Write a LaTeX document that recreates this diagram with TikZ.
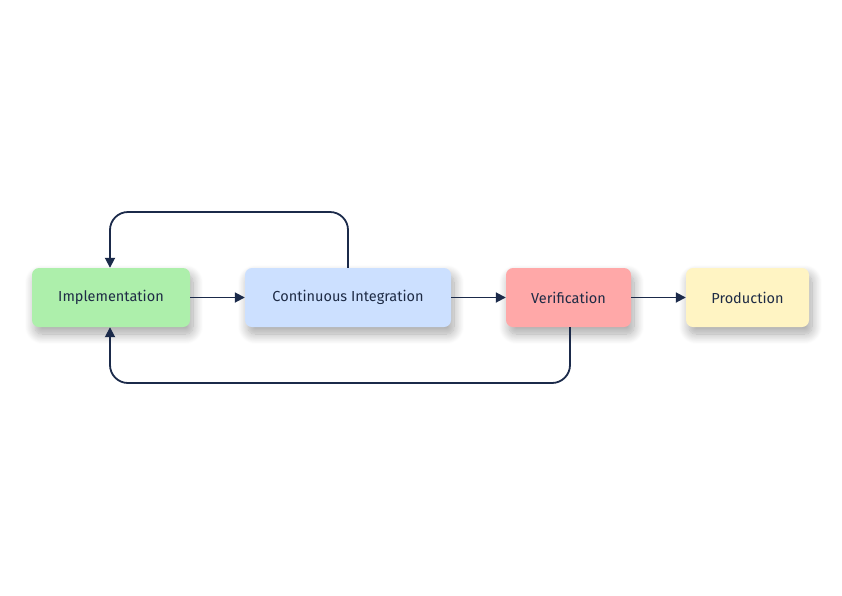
\documentclass[tikz,border=0pt]{standalone}
\usepackage{fontspec}
\setmainfont{Fira Sans}
\usetikzlibrary{arrows.meta,shadows.blur,positioning}
\definecolor{lnc}{HTML}{1B2A4A}
\definecolor{txc}{HTML}{1E2B45}
\definecolor{cgreen}{HTML}{ADEFAB}
\definecolor{cblue}{HTML}{CCE0FF}
\definecolor{cred}{HTML}{FFA8A8}
\definecolor{cyellow}{HTML}{FFF4C3}
\tikzset{
  box/.style={rounded corners=7pt, minimum height=59pt, inner sep=0pt,
    text=txc, font=\fontsize{14.5pt}{16pt}\selectfont,
    blur shadow={shadow xshift=3pt, shadow yshift=-7pt, shadow blur radius=10pt, shadow blur steps=12, shadow opacity=35}},
  conn/.style={draw=lnc, line width=1.8pt, -{Triangle[length=10pt,width=10pt]}},
}
\begin{document}
\begin{tikzpicture}[x=1pt,y=-1pt]
\useasboundingbox (0,0) rectangle (842,595);
\node[box, fill=cgreen, minimum width=158pt] (impl) at (111,297.5) {Implementation};
\node[box, fill=cblue, minimum width=206pt] (ci) at (348,297.5) {Continuous Integration};
\node[box, fill=cred, minimum width=125pt] (ver) at (568.5,297.5) {Verification};
\node[box, fill=cyellow, minimum width=123pt] (prod) at (747.5,297.5) {Production};
\coordinate (t1) at (348,212);
\coordinate (t2) at (110,212);
\coordinate (b1) at (570,383);
\coordinate (b2) at (110,383);
\draw[conn] (impl.east) -- (ci.west);
\draw[conn] (ci.east) -- (ver.west);
\draw[conn] (ver.east) -- (prod.west);
\draw[conn, rounded corners=18pt] (ci.north) -- (t1) -- (t2) -- (impl.north -| t2);
\draw[conn, rounded corners=18pt] (ver.south -| b1) -- (b1) -- (b2) -- (impl.south -| b2);
\end{tikzpicture}
\end{document}
